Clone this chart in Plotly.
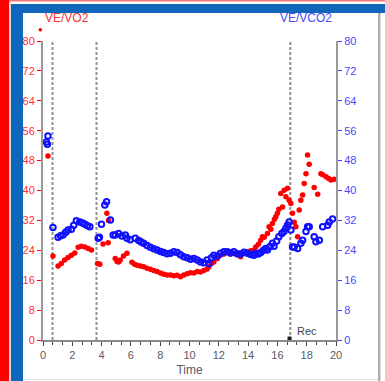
import plotly.graph_objects as go

# ---- data ----
ve_vo2_time = [0.34, 0.68, 1.03, 1.25, 1.48, 1.71, 1.94, 2.17, 2.40, 2.62, 2.86, 3.08, 3.31,
               3.72, 3.88, 4.10, 4.36, 4.45, 4.47, 4.93, 5.05, 5.16, 5.27, 5.50, 5.73, 6.07, 6.25,
               6.42, 6.65, 6.87, 7.10, 7.33, 7.56, 7.79, 8.02, 8.24, 8.47, 8.70, 8.93, 9.16, 9.38,
               9.61, 9.84, 10.07, 10.30, 10.53, 10.75, 10.98, 11.20, 11.32, 11.50, 11.66, 11.90,
               12.12, 12.35, 12.58, 12.80, 13.03, 13.26, 13.49, 13.72, 13.95, 14.18, 14.40, 14.52,
               14.70, 14.86, 14.98, 15.10, 15.32, 15.43, 15.55, 15.66, 15.80, 15.89, 16.00, 16.10,
               16.23, 16.35, 16.46, 16.58, 16.69, 16.80, 16.92, 17.03, 17.15, 17.26, 17.38, 17.49,
               17.60, 17.72, 17.83, 17.95, 18.06, 18.17, 18.51, 18.75, 18.97, 19.10, 19.32, 19.50,
               19.66, 19.88]
ve_vo2 = [49.2, 22.5, 19.8, 20.5, 21.4, 22.1, 22.7, 23.3, 24.8, 25.1, 24.9, 24.5, 24.1,
          20.5, 20.3, 25.7, 33.9, 26.0, 32.0, 21.8, 21.0, 20.9, 21.4, 22.5, 23.2, 20.8, 20.3,
          20.0, 19.8, 19.6, 19.2, 18.9, 18.6, 18.3, 17.9, 17.6, 17.4, 17.4, 17.2, 17.3, 16.9,
          17.4, 17.7, 18.0, 17.9, 18.3, 18.2, 18.6, 19.0, 19.6, 20.5, 20.9, 21.8,
          22.7, 23.0, 23.6, 23.0, 23.2, 22.8, 22.3, 23.2, 23.6, 23.9, 24.1, 24.9,
          25.6, 26.7, 27.6, 27.5, 28.5, 30.3, 29.6, 31.2, 32.3, 33.0, 33.9, 35.0,
          39.2, 35.6, 40.1, 38.3, 40.6, 37.4, 36.5, 33.9, 31.5, 30.3, 27.6, 34.8,
          37.4, 38.8, 41.9, 44.5, 49.5, 47.0, 40.8, 39.0, 44.5, 44.2, 43.7, 43.2,
          42.8, 43.0]

ve_vco2_time = [0.23, 0.30, 0.34, 0.68, 1.03, 1.20, 1.37, 1.55, 1.71, 1.94, 2.10, 2.28, 2.51, 2.70,
                2.86, 3.03, 3.20, 3.77, 3.85, 3.99, 4.22, 4.34, 4.60, 4.79, 4.93, 5.16, 5.39, 5.62,
                5.73, 5.95, 6.30, 6.53, 6.70, 6.87, 7.10, 7.33, 7.56, 7.79, 8.02, 8.24, 8.47, 8.70,
                8.93, 9.16, 9.38, 9.61, 9.84, 10.07, 10.30, 10.53, 10.75, 10.98, 11.20, 11.32,
                11.50, 11.66, 11.90, 12.12, 12.35, 12.58, 12.80, 13.03, 13.26, 13.49, 13.72, 13.95,
                14.18, 14.40, 14.52, 14.70, 14.86, 15.05, 15.20, 15.32, 15.50, 15.66, 15.77, 15.95,
                16.10, 16.30, 16.45, 16.58, 16.70, 16.80, 16.92, 17.03, 17.15, 17.38, 17.60, 17.72,
                17.95, 18.06, 18.17, 18.51, 18.63, 18.86, 19.09, 19.43, 19.54, 19.77]
ve_vco2 = [53.0, 52.4, 54.6, 30.1, 27.5, 27.9, 28.1, 28.8, 29.4, 29.6, 30.7, 31.9, 31.6, 31.3,
           31.0, 30.6, 30.3, 27.2, 27.5, 31.0, 36.1, 37.0, 32.1, 28.1, 28.1, 28.5, 27.8, 28.1,
           27.2, 26.8, 27.2, 26.6, 26.2, 25.9, 25.3, 24.8, 24.4, 24.1, 23.7, 23.4, 23.1, 23.2,
           23.6, 23.4, 22.8, 22.3, 22.0, 21.6, 21.8, 21.4, 20.9, 20.7, 21.4, 20.5,
           22.0, 22.7, 22.5, 23.2, 23.6, 23.6, 23.3, 23.6, 23.1, 23.0, 23.5, 23.2,
           22.9, 22.7, 23.2, 23.0, 23.4, 24.0, 24.5, 24.1, 25.0, 25.9, 25.1, 26.5,
           27.6, 28.5, 29.0, 29.9, 30.8, 31.6, 29.4, 24.9, 24.9, 24.5, 25.9, 26.7,
           29.0, 30.3, 30.3, 27.6, 26.3, 26.7, 30.3, 30.7, 31.6, 32.4]

event_times = [0.65, 3.65, 16.88]
event_label = "Rec"
y_ticks = [0, 8, 16, 24, 32, 40, 48, 56, 64, 72, 80]
x_ticks = [0, 2, 4, 6, 8, 10, 12, 14, 16, 18, 20]

# ---- layout geometry (pixels) ----
W, H = 385, 381
L, R, T, B = 43, 336, 41, 340


def px(xp):
    return (xp - L) / (R - L)


def py(yp):
    return (B - yp) / (B - T)


RED = "#ff0000"
BLUE = "#1010ff"
BORDER_BLUE = "#0f67bb"
FONT = "Liberation Sans, Arial, sans-serif"

fig = go.Figure()
fig.add_trace(go.Scatter(x=ve_vo2_time, y=ve_vo2, mode="markers", yaxis="y",
                         marker=dict(color=RED, size=5.5, symbol="circle"),
                         showlegend=False))
fig.add_trace(go.Scatter(x=ve_vco2_time, y=ve_vco2, mode="markers", yaxis="y2",
                         marker=dict(color=BLUE, size=5.5, symbol="circle-open",
                                     line=dict(color=BLUE, width=2)),
                         showlegend=False))

shapes = []
# event lines
for t in event_times:
    shapes.append(dict(type="line", xref="x", yref="y", x0=t, x1=t, y0=0, y1=80,
                       line=dict(color="#909090", width=2, dash="3px,2px"), layer="below"))


def rect(x0, y0, x1, y1, color):
    shapes.append(dict(type="rect", xref="paper", yref="paper",
                       x0=px(x0), x1=px(x1), y0=py(y1), y1=py(y0),
                       fillcolor=color, line=dict(width=0), layer="above"))


rect(0, 0, 9, 381, "#ff0000")
rect(9, 0, 11, 381, "#d8d8d8")
rect(9, 0, 385, 1.5, "#f07878")
rect(11, 4, 385, 13, BORDER_BLUE)
rect(11, 4, 23, 381, BORDER_BLUE)
rect(378, 13, 380.5, 381, "#b0b0b0")
rect(23, 379, 378, 380, "#e0e0e0")
# event marker at the axis
rect(287.5, 336.5, 291.5, 340, "#222")

fig.update_layout(
    width=W, height=H,
    margin=dict(l=L, r=W - R, t=T, b=H - B, pad=0, autoexpand=False),
    paper_bgcolor="white", plot_bgcolor="white",
    font=dict(family=FONT, size=11, color="#555"),
    shapes=shapes,
    xaxis=dict(range=[0, 20], tickvals=x_ticks, showgrid=False, zeroline=False,
               automargin=False,
               showline=True, linecolor="#8a8a8a", linewidth=2,
               ticks="outside", ticklen=4, tickcolor="#444", tickwidth=1,
               minor=dict(dtick=2 / 3, tick0=0, ticks="outside", ticklen=3, tickcolor="#444"),
               tickfont=dict(size=11, color="#5a5a66"),
               title=dict(text="Time", font=dict(size=12, color="#5a5a66"), standoff=5)),
    yaxis=dict(range=[0, 80], tickvals=y_ticks, showgrid=False, zeroline=False,
               automargin=False,
               showline=True, linecolor="#9a9a9a", linewidth=2,
               ticks="outside", ticklen=4, tickcolor=RED,
               tickfont=dict(size=11, color="#ff3030")),
    yaxis2=dict(range=[0, 80], tickvals=y_ticks, overlaying="y", side="right",
                showgrid=False, zeroline=False, automargin=False,
                showline=True, linecolor="#9a9a9a", linewidth=2,
                ticks="outside", ticklen=4, tickcolor="#4040ff",
                tickfont=dict(size=11, color="#4848ff")),
    annotations=[
        dict(text="VE/VO2", xref="paper", yref="paper", x=px(43), y=py(18),
             xanchor="left", yanchor="middle", showarrow=False,
             font=dict(size=12, color="#ff3030")),
        dict(text="VE/VCO2", xref="paper", yref="paper", x=px(334), y=py(18),
             xanchor="right", yanchor="middle", showarrow=False,
             font=dict(size=12, color="#4848ff")),
        dict(text="●", xref="paper", yref="paper", x=px(40), y=py(29),
             xanchor="center", yanchor="middle", showarrow=False,
             font=dict(size=8, color=RED)),
        dict(text=event_label, xref="x", yref="y", x=event_times[2] + 0.3, y=2.4,
             xanchor="left", yanchor="middle", showarrow=False,
             font=dict(size=11, color="#444")),
    ],
)

fig.write_html("out.html")
